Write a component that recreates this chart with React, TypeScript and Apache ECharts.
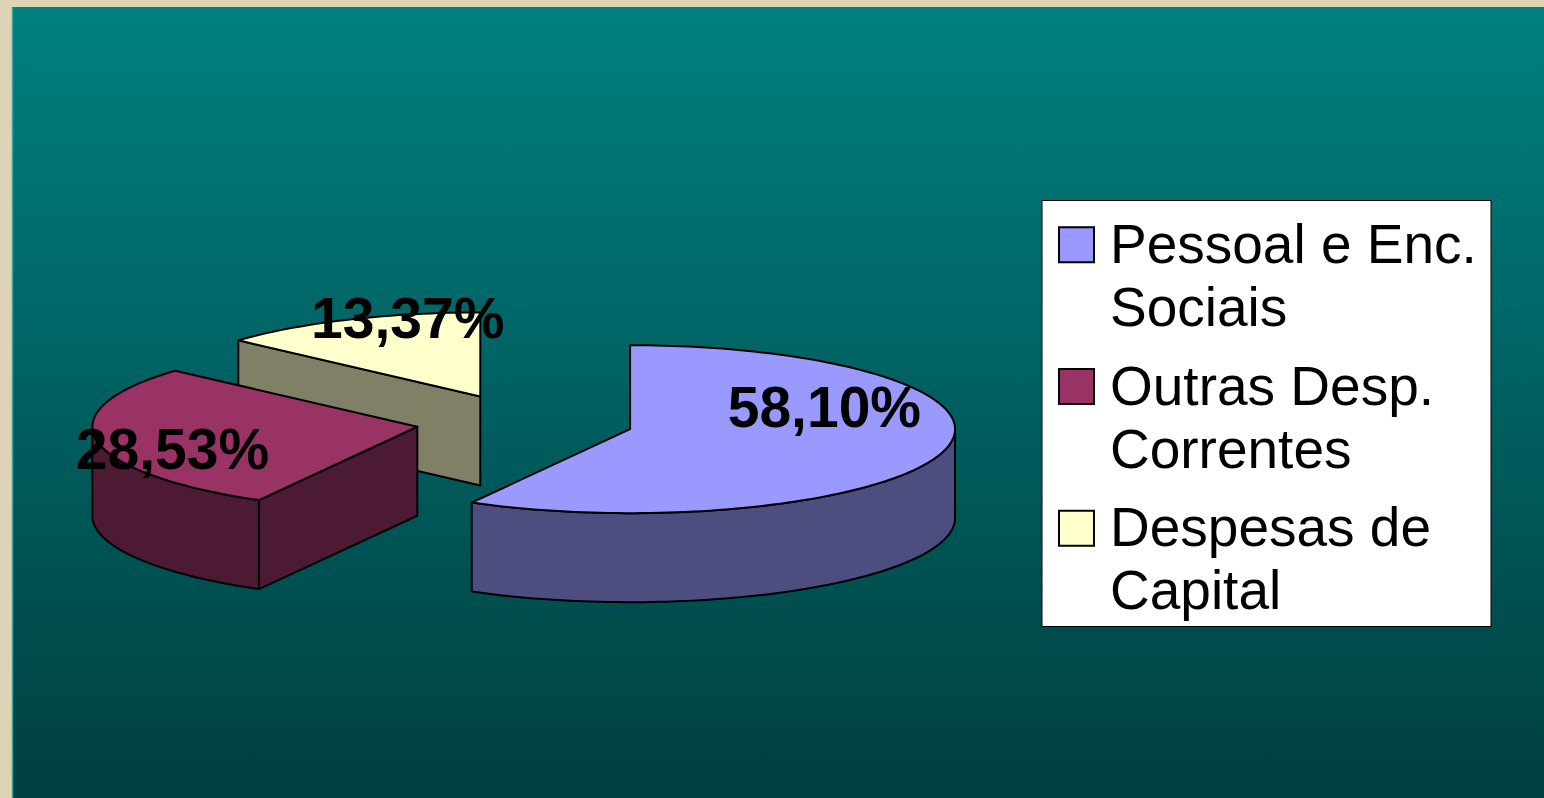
import React, { useEffect, useRef } from 'react';
import * as echarts from 'echarts';

// ---- data ----
const categories = ['Pessoal e Enc.\nSociais', 'Outras Desp.\nCorrentes', 'Despesas de\nCapital'];
const values = [58.1, 28.53, 13.37];

// ---- styles / layout ----
const topColors = ['#9999FF', '#993366', '#FFFFCC'];
const sideColors = ['#4D4D80', '#4D1A33', '#808066'];
const PIE = { cx: 524.7, cy: 422.1, rx: 325, ry: 84, depth: 89, explode: 0.335, startAngle: -90 };
const labelPlacement = [
  { dAngle: -38.7, r: 0.655 },
  { dAngle: -10.2, r: 0.8 },
  { dAngle: 10.6, r: 0.96 },
];
const FONT = 'Arial, "Liberation Sans", Helvetica, sans-serif';

const rad = (d: number) => (d * Math.PI) / 180;
const fmt = (v: number) => v.toFixed(2).replace('.', ',') + '%';

function renderItem(params: any, api: any) {
  const i = params.dataIndex;
  const v = api.value(0);
  const total = values.reduce((a, b) => a + b, 0);
  let cum = 0;
  for (let k = 0; k < i; k++) cum += values[k];
  const a0 = PIE.startAngle + (360 * cum) / total;
  const a1 = a0 + (360 * v) / total;
  const mid = (a0 + a1) / 2;
  const sx = PIE.cx + PIE.explode * PIE.rx * Math.cos(rad(mid));
  const sy = PIE.cy + PIE.explode * PIE.ry * Math.sin(rad(mid));
  const D = PIE.depth;
  const pt = (deg: number, dy = 0) => [sx + PIE.rx * Math.cos(rad(deg)), sy + PIE.ry * Math.sin(rad(deg)) + dy];
  const arc = (from: number, to: number, dy: number) => {
    const n = Math.max(2, Math.ceil(Math.abs(to - from) / 1.5));
    const pts: number[][] = [];
    for (let k = 0; k <= n; k++) pts.push(pt(from + ((to - from) * k) / n, dy));
    return pts;
  };
  const base = Math.round((Math.sin(rad(mid)) + 1) * 100) * 4;
  const stroke = { stroke: '#000', lineWidth: 2, lineJoin: 'round' };
  const children: any[] = [];

  // radial face at start edge
  if (Math.cos(rad(a0)) < -1e-6) {
    const p = pt(a0);
    children.push({
      type: 'polygon', z2: base,
      shape: { points: [[sx, sy], p, [p[0], p[1] + D], [sx, sy + D]] },
      style: { fill: sideColors[i], ...stroke },
    });
  }
  // radial face at end edge
  if (Math.cos(rad(a1)) > 1e-6) {
    const p = pt(a1);
    children.push({
      type: 'polygon', z2: base,
      shape: { points: [[sx, sy], p, [p[0], p[1] + D], [sx, sy + D]] },
      style: { fill: sideColors[i], ...stroke },
    });
  }
  // outer wall (front half only)
  for (const off of [-360, 0, 360]) {
    const b0 = Math.max(a0, off), b1 = Math.min(a1, off + 180);
    if (b1 > b0) {
      const pts = arc(b0, b1, 0).concat(arc(b1, b0, D));
      children.push({
        type: 'polygon', z2: base + 1,
        shape: { points: pts },
        style: { fill: sideColors[i], ...stroke },
      });
    }
  }
  // top face
  children.push({
    type: 'polygon', z2: base + 2,
    shape: { points: [[sx, sy]].concat(arc(a0, a1, 0)) },
    style: { fill: topColors[i], ...stroke },
  });
  // label
  const lp = labelPlacement[i];
  const la = mid + lp.dAngle;
  children.push({
    type: 'text', z2: 10000,
    x: sx + lp.r * PIE.rx * Math.cos(rad(la)),
    y: sy + lp.r * PIE.ry * Math.sin(rad(la)),
    style: {
      text: fmt(v), fill: '#000',
      font: `bold 57px ${FONT}`,
      align: 'center', verticalAlign: 'middle',
    },
  });
  return { type: 'group', children };
}

export default function App() {
  const ref = useRef<HTMLDivElement>(null);
  useEffect(() => {
    if (!ref.current) return;
    const chart = echarts.init(ref.current, undefined, { renderer: 'svg' });

    const legendItems: any[] = [];
    categories.forEach((c, i) => {
      const top = 212.3 + i * 141.7;
      legendItems.push({
        type: 'rect', z: 11,
        shape: { x: 1059, y: top + 15, width: 35, height: 35 },
        style: { fill: topColors[i], stroke: '#000', lineWidth: 2 },
      });
      legendItems.push({
        type: 'text', z: 11,
        x: 1110, y: top,
        style: {
          text: c, fill: '#000', font: `55px ${FONT}`, lineHeight: 63,
          align: 'left', verticalAlign: 'top',
        },
      });
    });

    chart.setOption({
      animation: false,
      backgroundColor: '#DDD4B8',
      graphic: [
        {
          type: 'rect', z: -10,
          shape: { x: 12, y: 7, width: 1532, height: 791 },
          style: {
            fill: new echarts.graphic.LinearGradient(0, 0, 0, 1, [
              { offset: 0, color: '#008080' },
              { offset: 1, color: '#003F40' },
            ]),
          },
        },
        {
          type: 'line', z: -9,
          shape: { x1: 12.5, y1: 7, x2: 12.5, y2: 798 },
          style: { stroke: '#3AA3A0', lineWidth: 1.5 },
        },
        {
          type: 'rect', z: 10,
          shape: { x: 1042, y: 200.5, width: 449, height: 426 },
          style: { fill: '#FFFFFF', stroke: '#000', lineWidth: 1 },
        },
        ...legendItems,
      ],
      series: [
        {
          type: 'custom',
          coordinateSystem: 'none',
          silent: true,
          renderItem,
          data: values.map((v, i) => ({ name: categories[i], value: [v] })),
        },
      ],
    });
    return () => chart.dispose();
  }, []);
  return <div ref={ref} style={{ position: 'fixed', left: 0, top: 0, width: 1544, height: 798 }} />;
}
